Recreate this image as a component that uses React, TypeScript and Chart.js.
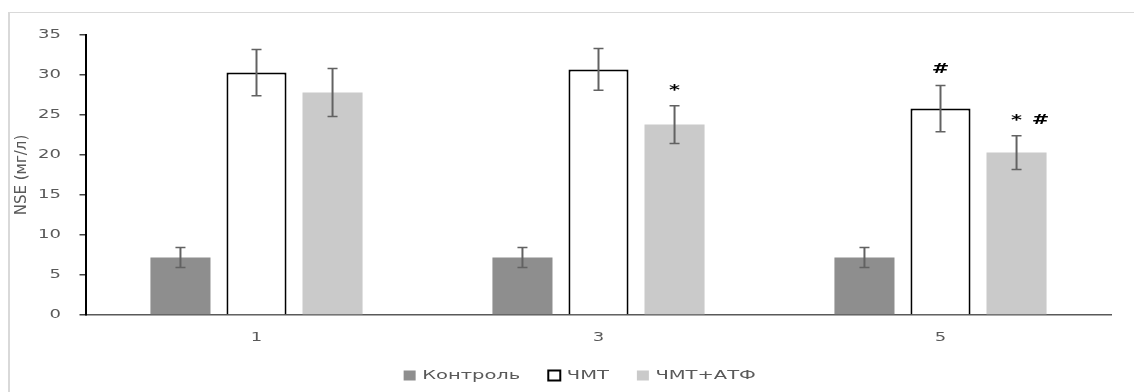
import React, { useEffect, useRef } from 'react';
import { Chart, registerables } from 'chart.js';

Chart.register(...registerables);

// ---- data ----
const categories = ['1', '3', '5'];
const seriesNames = ['Контроль', 'ЧМТ', 'ЧМТ+АТФ'];
const controlValues = [7.2, 7.2, 7.2];
const controlErrors = [1.25, 1.25, 1.25];
const tbiValues = [30.3, 30.7, 25.8];
const tbiErrors = [2.9, 2.6, 2.9];
const tbiAtpValues = [27.8, 23.8, 20.3];
const tbiAtpErrors = [3.0, 2.35, 2.1];
const controlMarks = ['', '', ''];
const tbiMarks = ['', '', '#'];
const tbiAtpMarks = ['', '*', '* #'];
const yMin = 0;
const yMax = 35;
const yStep = 5;
const yAxisTitle = 'NSE (мг/л)';

// ---- style ----
const TEXT_STRETCH = 1.5;
const GRAY_TEXT = '#595959';
const FONT = 'DejaVu Sans';
const LEGEND_PAD = 28;
const LEGEND_SHIFT = 19;

function stretchContext(ctx: any) {
  if (ctx.__stretched) return;
  ctx.__stretched = true;
  const origFill = ctx.fillText.bind(ctx);
  const origMeasure = ctx.measureText.bind(ctx);
  const rotated = () => {
    const t = ctx.getTransform();
    return Math.abs(t.b) > 1e-6 || Math.abs(t.c) > 1e-6;
  };
  ctx.fillText = (text: string, x: number, y: number, maxWidth?: number) => {
    if (rotated()) {
      origFill(text, x, y);
      return;
    }
    ctx.save();
    ctx.translate(x, y);
    ctx.scale(TEXT_STRETCH, 1);
    origFill(text, 0, 0);
    ctx.restore();
  };
  ctx.measureText = (text: string) => {
    const m = origMeasure(text);
    if (rotated()) return m;
    return {
      width: m.width * TEXT_STRETCH,
      actualBoundingBoxLeft: m.actualBoundingBoxLeft * TEXT_STRETCH,
      actualBoundingBoxRight: m.actualBoundingBoxRight * TEXT_STRETCH,
      actualBoundingBoxAscent: m.actualBoundingBoxAscent,
      actualBoundingBoxDescent: m.actualBoundingBoxDescent,
      fontBoundingBoxAscent: m.fontBoundingBoxAscent,
      fontBoundingBoxDescent: m.fontBoundingBoxDescent,
    };
  };
}

const legendShiftPlugin = {
  id: 'legendShift',
  afterLayout(chart: any) {
    if (chart.legend) {
      chart.legend.left += LEGEND_SHIFT;
      chart.legend.right += LEGEND_SHIFT;
    }
  },
};

const errorBarPlugin = {
  id: 'errorBars',
  afterDatasetsDraw(chart: any) {
    const ctx = chart.ctx;
    const yScale = chart.scales.y;
    chart.data.datasets.forEach((ds: any, i: number) => {
      const meta = chart.getDatasetMeta(i);
      meta.data.forEach((bar: any, j: number) => {
        const v = ds.data[j];
        const e = ds.errors[j];
        const x = bar.x;
        const yTop = yScale.getPixelForValue(v + e);
        const yBot = yScale.getPixelForValue(v - e);
        ctx.save();
        ctx.strokeStyle = '#626262';
        ctx.lineWidth = 2;
        ctx.beginPath();
        ctx.moveTo(x, yTop);
        ctx.lineTo(x, yBot);
        ctx.stroke();
        ctx.lineWidth = 1.5;
        ctx.beginPath();
        ctx.moveTo(x - 5, yTop);
        ctx.lineTo(x + 5, yTop);
        ctx.moveTo(x - 5, yBot);
        ctx.lineTo(x + 5, yBot);
        ctx.stroke();
        // significance marks
        const mark = ds.marks[j];
        if (mark) {
          ctx.fillStyle = '#000000';
          ctx.font = `bold 14px "${FONT}"`;
          ctx.textAlign = 'center';
          ctx.textBaseline = 'alphabetic';
          mark.split(' ').forEach((m: string, k: number) => {
            ctx.fillText(m, x + k * 24, yTop - 12);
          });
        }
        ctx.restore();
      });
    });
  },
};

export default function App() {
  const canvasRef = useRef<HTMLCanvasElement | null>(null);

  useEffect(() => {
    const canvas = canvasRef.current;
    if (!canvas) return;
    const ctx = canvas.getContext('2d');
    stretchContext(ctx);
    const chart = new Chart(ctx as any, {
      type: 'bar',
      data: {
        labels: categories,
        datasets: [
          {
            label: seriesNames[0],
            data: controlValues,
            errors: controlErrors,
            marks: controlMarks,
            backgroundColor: '#8e8e8e',
            borderColor: '#8e8e8e',
            borderWidth: 0,
          } as any,
          {
            label: seriesNames[1],
            data: tbiValues,
            errors: tbiErrors,
            marks: tbiMarks,
            backgroundColor: '#ffffff',
            borderColor: '#000000',
            borderWidth: 2,
          } as any,
          {
            label: seriesNames[2],
            data: tbiAtpValues,
            errors: tbiAtpErrors,
            marks: tbiAtpMarks,
            backgroundColor: '#cacaca',
            borderColor: '#cacaca',
            borderWidth: 0,
          } as any,
        ],
      },
      options: {
        responsive: false,
        animation: false,
        devicePixelRatio: 1,
        categoryPercentage: 0.667,
        barPercentage: 0.79,
        layout: { padding: { left: 0, right: 22.5, top: 22, bottom: 0 } },
        plugins: {
          tooltip: { enabled: false },
          legend: {
            display: true,
            position: 'bottom',
            labels: {
              color: GRAY_TEXT,
              font: { family: FONT, size: 13 },
              boxWidth: 12,
              boxHeight: 10,
              padding: LEGEND_PAD,
            },
          },
        },
        scales: {
          x: {
            grid: { display: false, drawTicks: false },
            border: { display: true, color: '#595959', width: 1.5 },
            ticks: { color: GRAY_TEXT, font: { family: FONT, size: 12 }, padding: 16 },
            afterFit: (scale: any) => {
              scale.height = 54 - LEGEND_PAD;
            },
          },
          y: {
            min: yMin,
            max: yMax,
            grid: {
              display: true,
              drawOnChartArea: false,
              drawTicks: true,
              tickLength: 6,
              color: '#404040',
              lineWidth: 1.5,
            },
            border: { display: true, color: '#000000', width: 2 },
            ticks: { stepSize: yStep, color: GRAY_TEXT, font: { family: FONT, size: 12 }, padding: 18.5 },
            title: {
              display: true,
              text: yAxisTitle,
              color: GRAY_TEXT,
              font: { family: FONT, size: 15 },
              padding: { top: 3, bottom: 0 },
            },
            afterFit: (scale: any) => {
              scale.width = 75.5;
              scale.paddingTop = 0;
              scale.paddingBottom = 0;
            },
          },
        },
      } as any,
      plugins: [errorBarPlugin, legendShiftPlugin],
    });
    return () => chart.destroy();
  }, []);

  return (
    <div
      style={{
        position: 'absolute',
        left: 8,
        top: 12,
        width: 1126,
        height: 380,
        borderTop: '1px solid #d9d9d9',
        borderLeft: '2px solid #d9d9d9',
        boxSizing: 'border-box',
        background: '#ffffff',
      }}
    >
      <canvas
        ref={canvasRef}
        width={1124}
        height={379}
        style={{ position: 'absolute', left: 0, top: 0, width: 1124, height: 379 }}
      />
    </div>
  );
}
